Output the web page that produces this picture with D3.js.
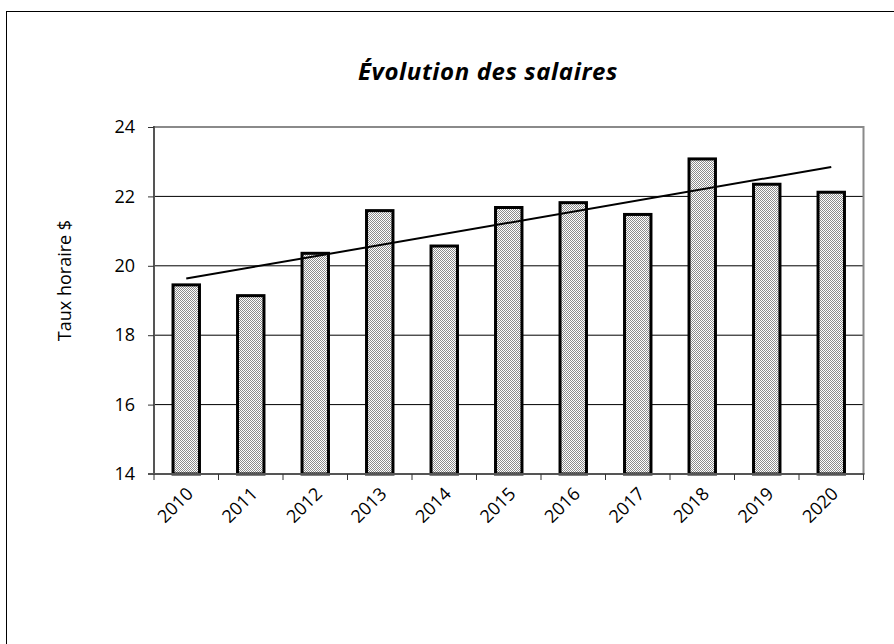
<!DOCTYPE html>
<html><head><meta charset="utf-8">
<script src="https://cdn.jsdelivr.net/npm/d3@7"></script>
<style>
html,body{margin:0;padding:0;background:#fff;}
text{font-family:"Open Sans","Noto Sans",sans-serif;}
</style></head>
<body>
<svg id="chart" width="894" height="644"></svg>
<script>
const categories = ["2010","2011","2012","2013","2014","2015","2016","2017","2018","2019","2020"];
const salaires = [19.45, 19.14, 20.36, 21.59, 20.57, 21.68, 21.82, 21.48, 23.08, 22.35, 22.12];
const yTicks = [14, 16, 18, 20, 22, 24];
const titleText = "Évolution des salaires";
const yTitle = "Taux horaire $";

(function () {
const svg = d3.select("#chart");
const pL = 154, pR = 863.5, pT = 127, pB = 474;

// outer frame (cropped at right/bottom)
svg.append("rect").attr("x", 6.5).attr("y", 11.5).attr("width", 1200).attr("height", 1200)
  .attr("fill", "none").attr("stroke", "#000").attr("stroke-width", 1);

// pattern
const defs = svg.append("defs");
const pat = defs.append("pattern").attr("id", "dither").attr("patternUnits", "userSpaceOnUse")
  .attr("width", 2).attr("height", 2);
pat.append("rect").attr("width", 2).attr("height", 2).attr("fill", "#fff");
pat.append("rect").attr("x", 0).attr("y", 0).attr("width", 1).attr("height", 1).attr("fill", "#8c8c8c");
pat.append("rect").attr("x", 1).attr("y", 1).attr("width", 1).attr("height", 1).attr("fill", "#8c8c8c");

const x = d3.scaleBand().domain(categories).range([pL, pR]).paddingInner(0.59).paddingOuter(0.295);
const xb = d3.scaleBand().domain(categories).range([pL, pR]);
const y = d3.scaleLinear().domain([14, 24]).range([pB, pT]);

// gridlines
svg.append("g").selectAll("line").data(yTicks.filter(d => d > 14 && d < 24)).join("line")
  .attr("x1", pL).attr("x2", pR).attr("y1", d => y(d)).attr("y2", d => y(d))
  .attr("stroke", "#000").attr("stroke-width", 1);

// plot border top/right
svg.append("path").attr("d", `M${pL},${y(24)}H${pR}V${pB}`)
  .attr("fill", "none").attr("stroke", "#8a8a8a").attr("stroke-width", 2);

// bars
svg.append("g").selectAll("rect").data(salaires).join("rect")
  .attr("x", (d, i) => x(categories[i]))
  .attr("width", x.bandwidth())
  .attr("y", d => y(d))
  .attr("height", d => y(14) - y(d))
  .attr("fill", "url(#dither)")
  .attr("stroke", "#000").attr("stroke-width", 3);

// trendline (linear regression)
const n = salaires.length;
const xs = d3.range(n);
const mx = d3.mean(xs), my = d3.mean(salaires);
const slope = d3.sum(xs, (v, i) => (v - mx) * (salaires[i] - my)) / d3.sum(xs, v => (v - mx) * (v - mx));
const intercept = my - slope * mx;
svg.append("line")
  .attr("x1", xb(categories[0]) + xb.bandwidth() / 2)
  .attr("y1", y(intercept))
  .attr("x2", xb(categories[n - 1]) + xb.bandwidth() / 2)
  .attr("y2", y(intercept + slope * (n - 1)))
  .attr("stroke", "#000").attr("stroke-width", 2);

// y axis
const yAxis = svg.append("g").attr("transform", `translate(${pL},0)`)
  .call(d3.axisLeft(y).tickValues(yTicks).tickSize(6).tickPadding(13).tickFormat(d3.format("d")));
yAxis.select(".domain").attr("stroke", "#555").attr("stroke-width", 2).attr("d", `M0,${pT - 1}V${pB + 1}`);
yAxis.selectAll(".tick line").attr("stroke", "#333");
yAxis.selectAll("text").attr("font-size", 18).attr("fill", "#000");

// x axis
const xAxis = svg.append("g").attr("transform", `translate(0,${pB})`);
xAxis.append("line").attr("x1", pL - 6).attr("x2", pR + 1).attr("y1", 0).attr("y2", 0)
  .attr("stroke", "#555").attr("stroke-width", 2);
const bounds = categories.map(c => xb(c)).concat([pR]);
xAxis.selectAll("line.t").data(bounds).join("line").attr("class", "t")
  .attr("x1", d => d).attr("x2", d => d).attr("y1", 0).attr("y2", 6)
  .attr("stroke", "#333").attr("stroke-width", 1);
xAxis.selectAll("text").data(categories).join("text")
  .attr("transform", d => `translate(${xb(d) + xb.bandwidth() / 2 - 1},${12}) rotate(-45)`)
  .attr("text-anchor", "end").attr("dy", "0.7em")
  .attr("font-size", 18).attr("fill", "#000")
  .text(d => d);

// y title
svg.append("text").attr("transform", `translate(71,${(pT + pB) / 2 - 20}) rotate(-90)`)
  .attr("text-anchor", "middle").attr("font-size", 18).attr("fill", "#000").text(yTitle);

// title
svg.append("text").attr("x", 488).attr("y", 80).attr("text-anchor", "middle")
  .attr("font-size", 24).attr("font-weight", "bold").attr("font-style", "italic")
  .attr("letter-spacing", 0.6)
  .attr("fill", "#000").text(titleText);
})();
</script>
</body></html>
